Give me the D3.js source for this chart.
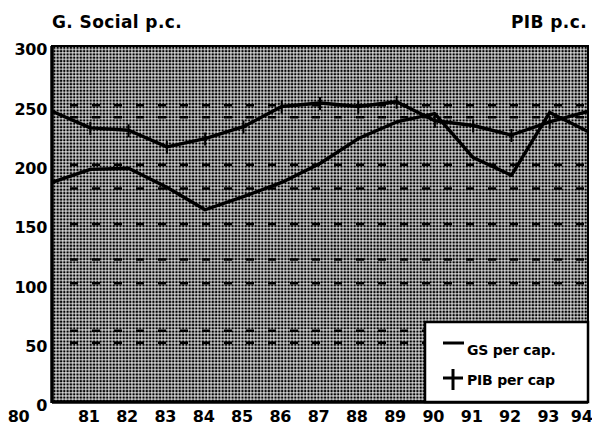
<!DOCTYPE html>
<html>
<head>
<meta charset="utf-8">
<script src="https://cdn.jsdelivr.net/npm/d3@7"></script>
<style>
  body { margin: 0; background: #fff; }
  svg text { font-family: "DejaVu Sans", sans-serif; font-weight: bold; fill: #000; }
</style>
</head>
<body>
<div id="chart"></div>
<script>
// data
const years = [80, 81, 82, 83, 84, 85, 86, 87, 88, 89, 90, 91, 92, 93, 94];
const gsPerCap = [185, 196, 197, 181, 162, 173, 185, 201, 222, 236, 243, 206, 191, 244, 228];
const pibPerCap = [245, 231, 229, 215, 222, 232, 249, 252, 249, 253, 237, 233, 225, 236, 245];
const yTicks = [0, 50, 100, 150, 200, 250, 300];
const gridValues = [50, 60, 100, 120, 150, 180, 200, 240, 250];

const width = 592, height = 431;
const margin = { top: 46, right: 4, bottom: 29, left: 52 };

const svg = d3.select('#chart').append('svg')
  .attr('width', width)
  .attr('height', height);

const x = d3.scaleLinear()
  .domain([80, 94])
  .range([margin.left, width - margin.right]);

const y = d3.scaleLinear()
  .domain([0, 300])
  .range([height - margin.bottom, margin.top]);

// halftone background
const defs = svg.append('defs');
const pat = defs.append('pattern')
  .attr('id', 'dots')
  .attr('patternUnits', 'userSpaceOnUse')
  .attr('width', 3.3)
  .attr('height', 3.3);
pat.append('rect').attr('width', 3.3).attr('height', 3.3).attr('fill', '#fff');
pat.append('rect').attr('x', 0.4).attr('y', 0.4).attr('width', 2.4).attr('height', 2.4).attr('fill', '#000');

svg.append('rect')
  .attr('x', x(80))
  .attr('y', y(300))
  .attr('width', x(94) - x(80))
  .attr('height', y(0) - y(300))
  .attr('fill', 'url(#dots)');

// dashed grid lines
svg.selectAll('.grid')
  .data(gridValues)
  .enter().append('line')
  .attr('class', 'grid')
  .attr('x1', x(80) + 18)
  .attr('x2', x(94))
  .attr('y1', d => y(d))
  .attr('y2', d => y(d))
  .attr('stroke', '#000')
  .attr('stroke-width', 2.5)
  .attr('stroke-dasharray', '8,14');

// lines
const line = d3.line()
  .x((d, i) => x(years[i]))
  .y(d => y(d));

svg.append('path')
  .datum(gsPerCap)
  .attr('d', line)
  .attr('fill', 'none')
  .attr('stroke', '#000')
  .attr('stroke-width', 3.4)
  .attr('stroke-linejoin', 'round');

svg.append('path')
  .datum(pibPerCap)
  .attr('d', line)
  .attr('fill', 'none')
  .attr('stroke', '#000')
  .attr('stroke-width', 3.4)
  .attr('stroke-linejoin', 'round');

// + markers on PIB
svg.selectAll('.pib-mark')
  .data(pibPerCap)
  .enter().append('line')
  .attr('class', 'pib-mark')
  .attr('x1', (d, i) => x(years[i]))
  .attr('x2', (d, i) => x(years[i]))
  .attr('y1', d => y(d) - 6)
  .attr('y2', d => y(d) + 7)
  .attr('stroke', '#000')
  .attr('stroke-width', 2);

// frame
svg.append('rect')
  .attr('x', x(80))
  .attr('y', y(300))
  .attr('width', x(94) - x(80))
  .attr('height', y(0) - y(300))
  .attr('fill', 'none')
  .attr('stroke', '#000')
  .attr('stroke-width', 2);
svg.append('line')
  .attr('x1', x(80)).attr('x2', x(80))
  .attr('y1', y(300)).attr('y2', y(0) + 1)
  .attr('stroke', '#000').attr('stroke-width', 3.5);
svg.append('line')
  .attr('x1', x(80)).attr('x2', x(94))
  .attr('y1', y(0)).attr('y2', y(0))
  .attr('stroke', '#000').attr('stroke-width', 3.5);

// axes
const yAxis = svg.append('g')
  .attr('transform', `translate(${x(80)},0)`)
  .call(d3.axisLeft(y).tickValues(yTicks).tickSize(0).tickPadding(5));
yAxis.select('.domain').remove();
yAxis.selectAll('text')
  .attr('dy', '0.55em')
  .style('font-family', '"DejaVu Sans", sans-serif')
  .style('font-weight', 'bold')
  .style('font-size', '16px')
  .style('letter-spacing', '-0.3px');

const xAxis = svg.append('g')
  .attr('transform', `translate(0,${y(0)})`)
  .call(d3.axisBottom(x).tickValues(years).tickFormat(d3.format('d')).tickSize(0).tickPadding(9));
xAxis.select('.domain').remove();
xAxis.selectAll('text')
  .style('font-family', '"DejaVu Sans", sans-serif')
  .style('font-weight', 'bold')
  .style('font-size', '16px')
  .style('letter-spacing', '-0.3px')
  .attr('text-anchor', d => d === 94 ? 'end' : 'middle')
  .attr('dx', d => d === 80 ? -34 : d === 94 ? 4 : -2);

// titles
svg.append('text')
  .attr('x', x(80))
  .attr('y', 28)
  .style('font-size', '17px')
  .style('letter-spacing', '0.4px')
  .text('G. Social p.c.');

svg.append('text')
  .attr('x', 587)
  .attr('y', 28)
  .attr('text-anchor', 'end')
  .style('font-size', '17px')
  .style('letter-spacing', '0.4px')
  .text('PIB p.c.');

// legend
const legend = svg.append('g');
legend.append('rect')
  .attr('x', 425)
  .attr('y', 322)
  .attr('width', x(94) - 425)
  .attr('height', y(0) - 322)
  .attr('fill', '#fff')
  .attr('stroke', '#000')
  .attr('stroke-width', 2.5);

legend.append('line')
  .attr('x1', 443).attr('x2', 464)
  .attr('y1', 343).attr('y2', 343)
  .attr('stroke', '#000').attr('stroke-width', 3);
legend.append('text')
  .attr('x', 467)
  .attr('y', 355)
  .style('font-size', '14px')
  .style('letter-spacing', '-0.2px')
  .text('GS per cap.');

legend.append('line')
  .attr('x1', 443).attr('x2', 463)
  .attr('y1', 378).attr('y2', 378)
  .attr('stroke', '#000').attr('stroke-width', 3);
legend.append('line')
  .attr('x1', 453).attr('x2', 453)
  .attr('y1', 369).attr('y2', 390)
  .attr('stroke', '#000').attr('stroke-width', 3);
legend.append('text')
  .attr('x', 467)
  .attr('y', 385)
  .style('font-size', '14px')
  .style('letter-spacing', '-0.2px')
  .text('PIB per cap');
</script>
</body>
</html>
